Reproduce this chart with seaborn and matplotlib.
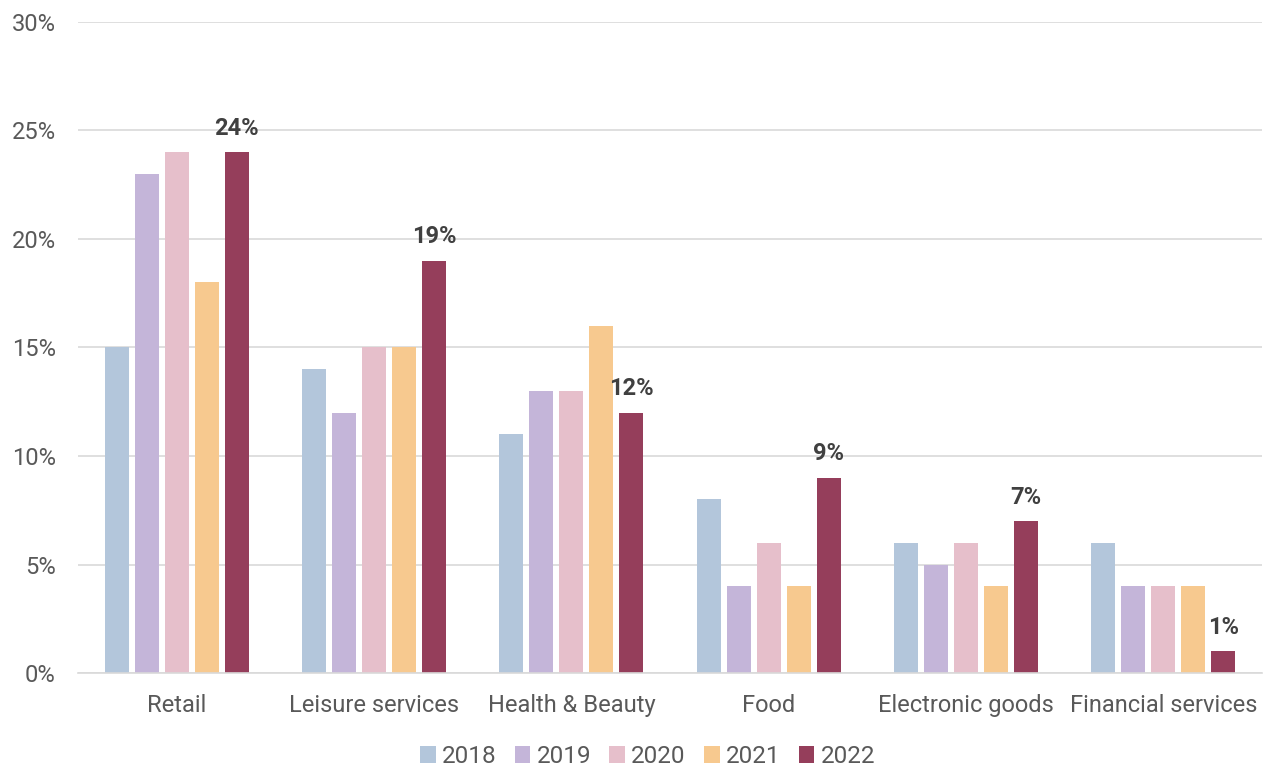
import matplotlib
matplotlib.use("Agg")
import matplotlib.pyplot as plt
import seaborn as sns
import pandas as pd
from matplotlib.patches import Patch

categories = ["Retail", "Leisure services", "Health & Beauty", "Food", "Electronic goods", "Financial services"]
years = ["2018", "2019", "2020", "2021", "2022"]
v2018 = [15, 14, 11, 8, 6, 6]
v2019 = [23, 12, 13, 4, 5, 4]
v2020 = [24, 15, 13, 6, 6, 4]
v2021 = [18, 15, 16, 4, 4, 4]
v2022 = [24, 19, 12, 9, 7, 1]
colors = ["#B3C6DB", "#C4B5D9", "#E6BFCB", "#F7C98F", "#953E5B"]
yticks = [0, 5, 10, 15, 20, 25, 30]

series = [v2018, v2019, v2020, v2021, v2022]
rows = []
for y, vals in zip(years, series):
    for c, v in zip(categories, vals):
        rows.append({"cat": c, "year": y, "val": v})
df = pd.DataFrame(rows)

sns.set_theme(style="white")
plt.rcParams["font.family"] = ["Roboto", "DejaVu Sans"]
FS = 17

fig = plt.figure(figsize=(12.67, 7.67), dpi=100)
ax = fig.add_axes([78/1267, 1-673/767, (1262-78)/1267, (673-22)/767])

sns.barplot(data=df, x="cat", y="val", hue="year", order=categories, hue_order=years,
            palette=colors, saturation=1, width=0.76, gap=0.2, ax=ax, legend=False,
            errorbar=None, linewidth=0, edgecolor="none")

ax.set_ylim(0, 30)
ax.set_xlim(-0.5, 5.5)
ax.set_yticks(yticks)
ax.set_yticklabels([f"{t}%" for t in yticks])
ax.yaxis.grid(True, color="#D9D9D9", linewidth=1.2)
ax.set_axisbelow(True)
for s in ["top", "right", "left"]:
    ax.spines[s].set_visible(False)
ax.spines["bottom"].set_color("#D9D9D9")
ax.spines["bottom"].set_linewidth(1.2)
ax.set_xlabel("")
ax.set_ylabel("")
ax.tick_params(axis="y", length=0, pad=16, labelsize=FS, labelcolor="#595959")
ax.tick_params(axis="x", length=0, pad=15, labelsize=FS, labelcolor="#595959")

last = ax.containers[-1]
ax.bar_label(last, labels=[f"{v}%" for v in v2022], padding=9, fontsize=FS,
             fontweight="bold", color="#404040")

handles = [Patch(facecolor=c, edgecolor="none", label=y) for c, y in zip(colors, years)]
fig.legend(handles=handles, loc="lower center", bbox_to_anchor=(0.511, -0.03), ncol=5,
           frameon=False, fontsize=17.5, handlelength=0.65, handleheight=0.65,
           handletextpad=0.25, columnspacing=0.75, labelcolor="#595959")

fig.savefig("out.png", dpi=100)
